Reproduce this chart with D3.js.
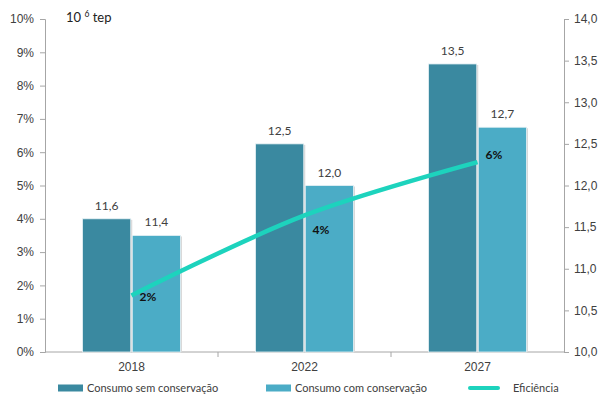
<!DOCTYPE html>
<html>
<head>
<meta charset="utf-8">
<script src="https://cdn.jsdelivr.net/npm/d3@7"></script>
<style>
  body { margin: 0; background: #fff; }
  svg { font-family: Lato, "Open Sans", sans-serif; }
  .axis path, .axis line { stroke: #a6a6a6; }
  .axis text { fill: #404040; font-size: 12px; }
  .val { fill: #404040; font-size: 12px; }
  .pct { fill: #111; font-size: 12px; font-weight: bold; }
  .legend text { fill: #404040; font-size: 11px; }
</style>
</head>
<body>
<div class="main"></div>
<script>
// data
const years = ["2018", "2022", "2027"];
const seriesNames = ["Consumo sem conservação", "Consumo com conservação"];
const semConservacao = [11.6, 12.5, 13.46];
const comConservacao = [11.4, 12.0, 12.7];
const eficiencia = [0.017, 0.041, 0.057];
const eficienciaLabels = ["2%", "4%", "6%"];
const leftTicks = [0, 0.01, 0.02, 0.03, 0.04, 0.05, 0.06, 0.07, 0.08, 0.09, 0.10];
const rightTicks = [10, 10.5, 11, 11.5, 12, 12.5, 13, 13.5, 14];

const svgWidth = 608, svgHeight = 401,
    plot = {left: 45, right: 564, top: 19, bottom: 352};

const colors = {sem: "#3a89a0", com: "#4bacc6", line: "#1dd3bd"};

const pt = d3.formatLocale({decimal: ",", thousands: ".", grouping: [3], currency: ["", ""]});
const fmt1 = pt.format(".1f");

let svg = d3.select("body>.main").append("svg")
    .attr("width", svgWidth)
    .attr("height", svgHeight);

let x = d3.scaleBand().domain(years).range([plot.left, plot.right]),
    x1 = d3.scaleBand().domain(seriesNames).range([0, 98]).paddingInner(0.03),
    yL = d3.scaleLinear().domain([0, 0.10]).range([plot.bottom, plot.top]),
    yR = d3.scaleLinear().domain([10, 14]).range([plot.bottom, plot.top]);

const groupOffset = (x.bandwidth() - 98) / 2;

// axes
svg.append("g")
    .attr("class", "axis")
    .attr("transform", "translate(" + plot.left + ",0)")
    .call(d3.axisLeft(yL).tickValues(leftTicks).tickFormat(d3.format(".0%")).tickSize(5).tickPadding(6));

svg.append("g")
    .attr("class", "axis")
    .attr("transform", "translate(" + plot.right + ",0)")
    .call(d3.axisRight(yR).tickValues(rightTicks).tickFormat(fmt1).tickSize(5).tickPadding(5));

let xAxis = svg.append("g")
    .attr("class", "axis")
    .attr("transform", "translate(0," + plot.bottom + ")")
    .call(d3.axisBottom(x).tickSize(0).tickPadding(10));
xAxis.select(".domain").remove();
xAxis.append("line")
    .attr("x1", plot.left).attr("x2", plot.right)
    .attr("stroke", "#a6a6a6");
xAxis.selectAll(".sep")
    .data(years.slice(1))
  .enter().append("line")
    .attr("class", "sep")
    .attr("x1", d => x(d)).attr("x2", d => x(d))
    .attr("y1", 0).attr("y2", 5)
    .attr("stroke", "#a6a6a6");

// bars
const barData = [];
years.forEach(function(yr, i) {
  barData.push({year: yr, s: seriesNames[0], v: semConservacao[i], c: colors.sem});
  barData.push({year: yr, s: seriesNames[1], v: comConservacao[i], c: colors.com});
});

let bars = svg.append("g").attr("class", "bars");
bars.selectAll(".shadow")
    .data(barData)
  .enter().append("rect")
    .attr("class", "shadow")
    .attr("x", d => x(d.year) + groupOffset + x1(d.s) + 1.5)
    .attr("y", d => yR(d.v) + 1)
    .attr("width", x1.bandwidth())
    .attr("height", d => plot.bottom - yR(d.v) - 1)
    .style("fill", "#d9d9d9");
bars.selectAll(".bar")
    .data(barData)
  .enter().append("rect")
    .attr("class", "bar")
    .attr("x", d => x(d.year) + groupOffset + x1(d.s))
    .attr("y", d => yR(d.v))
    .attr("width", x1.bandwidth())
    .attr("height", d => plot.bottom - yR(d.v))
    .style("fill", d => d.c)
    .style("stroke", "#e8f2f5")
    .style("stroke-width", 0.8);

bars.selectAll(".val")
    .data(barData)
  .enter().append("text")
    .attr("class", "val")
    .attr("x", d => x(d.year) + groupOffset + x1(d.s) + x1.bandwidth() / 2)
    .attr("y", d => yR(d.v) - 9)
    .attr("text-anchor", "middle")
    .text(d => fmt1(d.v));

// efficiency line
const lineData = years.map((yr, i) => ({year: yr, v: eficiencia[i], label: eficienciaLabels[i]}));
let line = d3.line()
    .x(d => x(d.year) + x.bandwidth() / 2)
    .y(d => yL(d.v))
    .curve(d3.curveCatmullRom.alpha(0.5));

svg.append("path")
    .datum(lineData)
    .attr("d", line)
    .style("fill", "none")
    .style("stroke", colors.line)
    .style("stroke-width", 4.5);

const labelNudge = [1, 14, -7];
svg.selectAll(".pct")
    .data(lineData)
  .enter().append("text")
    .attr("class", "pct")
    .attr("x", d => x(d.year) + x.bandwidth() / 2 + 8)
    .attr("y", (d, i) => yL(d.v) + labelNudge[i])
    .attr("dy", ".35em")
    .text(d => d.label);

// unit label
let unit = svg.append("text")
    .attr("x", 66).attr("y", 22)
    .style("font-size", "13px").style("fill", "#222");
unit.append("tspan").text("10 ");
unit.append("tspan").attr("dy", -5).style("font-size", "8.5px").text("6");
unit.append("tspan").attr("dy", 5).text(" tep");

// legend
const legendItems = [
  {name: seriesNames[0], c: colors.sem, type: "rect", x: 58},
  {name: seriesNames[1], c: colors.com, type: "rect", x: 266},
  {name: "Eficiência", c: colors.line, type: "line", x: 470}
];
let legend = svg.append("g").attr("class", "legend")
    .attr("transform", "translate(0,388)")
  .selectAll("g")
    .data(legendItems)
  .enter().append("g")
    .attr("transform", d => "translate(" + d.x + ",0)");

legend.filter(d => d.type === "rect").append("rect")
    .attr("x", 0).attr("y", -3.5)
    .attr("width", 25).attr("height", 7)
    .style("fill", d => d.c);
legend.filter(d => d.type === "line").append("line")
    .attr("x1", 0).attr("x2", 28)
    .attr("stroke", d => d.c)
    .attr("stroke-width", 4)
    .attr("stroke-linecap", "round");
legend.append("text")
    .attr("x", d => d.type === "line" ? 43 : 29)
    .attr("dy", ".35em")
    .text(d => d.name);
</script>
</body>
</html>
